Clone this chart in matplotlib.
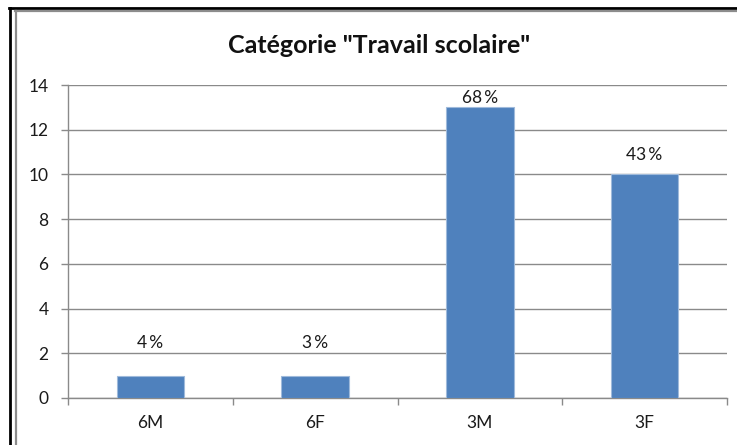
import matplotlib
matplotlib.use("Agg")
import matplotlib.pyplot as plt
from matplotlib.lines import Line2D
import numpy as np

categories = ["6M", "6F", "3M", "3F"]
values = [1, 1, 13, 10]
labels = ["4\u2009%", "3\u2009%", "68\u2009%", "43\u2009%"]
title = 'Catégorie "Travail scolaire"'
yticks = [0, 2, 4, 6, 8, 10, 12, 14]

# label offsets above bar tops (points)
label_offsets = [23.5, 23.5, 6.5, 13.7]

plt.rcParams['font.family'] = ['Lato', 'DejaVu Sans']

W, H = 737, 445
fig = plt.figure(figsize=(W / 100, H / 100), dpi=100)
fig.patch.set_facecolor('white')

ax = fig.add_axes([68 / W, (H - 398) / H, (727 - 68) / W, (398 - 85) / H])
x = np.arange(len(categories))
ax.bar(x, values, width=0.41, color='#4F81BD', edgecolor='#9fbadb', linewidth=0.8, zorder=3)

for xi, v, lab, off in zip(x, values, labels, label_offsets):
    ax.annotate(lab, (xi, v), xytext=(0, off), textcoords='offset points',
                ha='center', va='center', fontsize=12.5, color='#1a1a1a')

ax.set_xlim(-0.5, len(categories) - 0.5)
ax.set_ylim(0, 14)
ax.set_yticks(yticks)
ax.set_yticklabels([str(t) for t in yticks])
ax.yaxis.grid(True, color='#8a8a8a', linewidth=1.0, zorder=0)
ax.set_axisbelow(True)

ax.set_xticks(np.arange(-0.5, len(categories), 1.0))
ax.set_xticklabels([])
ax.set_xticks(x, minor=True)
ax.set_xticklabels(categories, minor=True)
ax.tick_params(axis='x', which='major', length=5, width=1, color='#8a8a8a', direction='out')
ax.tick_params(axis='x', which='minor', length=0, pad=12, labelsize=12.5, labelcolor='#1a1a1a')
ax.tick_params(axis='y', which='major', length=5, width=1, color='#8a8a8a', direction='out',
               pad=9, labelsize=12.5, labelcolor='#1a1a1a')

for s in ['top', 'right']:
    ax.spines[s].set_visible(False)
for s in ['left', 'bottom']:
    ax.spines[s].set_color('#8a8a8a')
    ax.spines[s].set_linewidth(1.0)

fig.text(379 / W, 1 - 53 / H, title, ha='center', va='baseline', fontsize=18,
         fontweight='bold', color='#111111')

# outer borders
fig.add_artist(Line2D([10 / W, 10 / W], [0, 1 - 8 / H], transform=fig.transFigure,
                      color='black', linewidth=2))
fig.add_artist(Line2D([9 / W, 1], [1 - 8 / H, 1 - 8 / H], transform=fig.transFigure,
                      color='black', linewidth=2))
fig.add_artist(Line2D([15.5 / W, 15.5 / W], [0, 1 - 10.5 / H], transform=fig.transFigure,
                      color='#8c8c8c', linewidth=1.6))
fig.add_artist(Line2D([15 / W, 1], [1 - 10.5 / H, 1 - 10.5 / H], transform=fig.transFigure,
                      color='#8c8c8c', linewidth=1.6))

fig.savefig("out.png", dpi=100)
